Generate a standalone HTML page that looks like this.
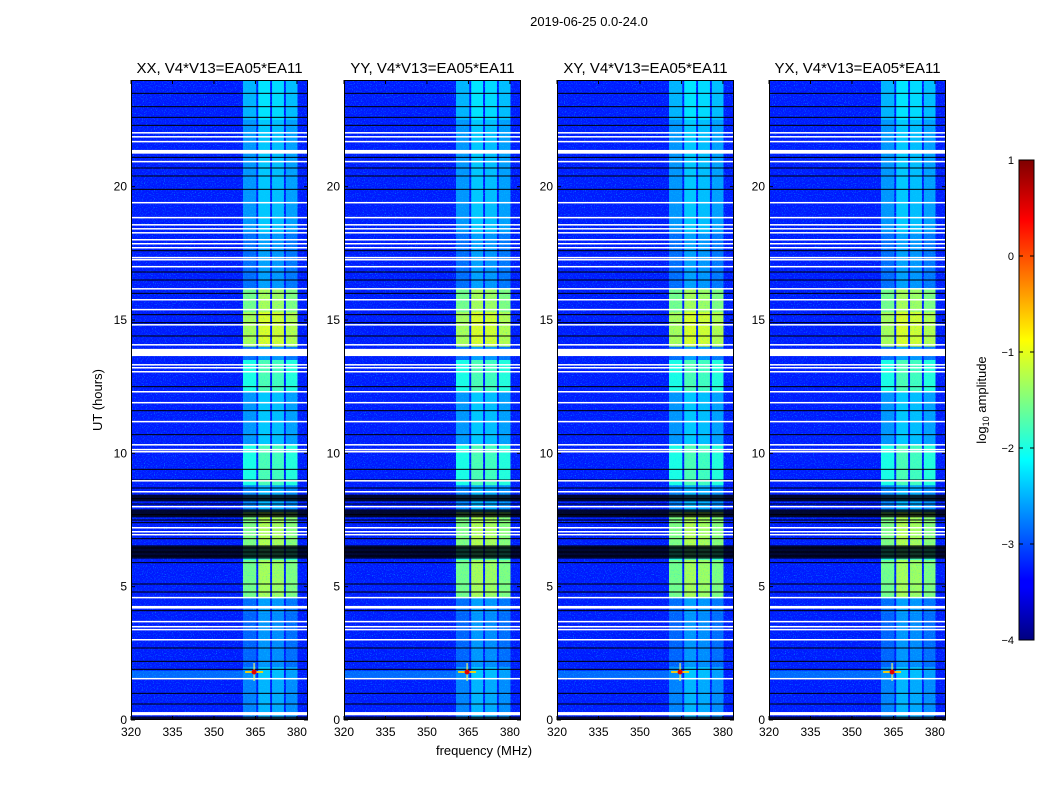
<!DOCTYPE html>
<html><head><meta charset="utf-8"><style>
body{margin:0;background:#fff;width:1050px;height:800px;overflow:hidden}
svg text{font-family:"Liberation Sans",sans-serif}
</style></head><body>
<svg id="fig" width="1050" height="800" xmlns="http://www.w3.org/2000/svg">
<defs>
<filter id="noise" x="0" y="0" width="100%" height="100%">
<feTurbulence type="fractalNoise" baseFrequency="0.9" numOctaves="1" seed="3"/>
<feColorMatrix type="matrix" values="0 0 0 0 0  0 0 0 0 0.75  0 0 0 0 1  0 0 0 3.2 -1.75"/>
</filter>
<linearGradient id="jet" x1="0" y1="1" x2="0" y2="0">
<stop offset="0" stop-color="#00007f"/><stop offset="0.11" stop-color="#0000ff"/>
<stop offset="0.125" stop-color="#0000ff"/><stop offset="0.375" stop-color="#00ffff"/>
<stop offset="0.5" stop-color="#80ff80"/><stop offset="0.625" stop-color="#ffff00"/>
<stop offset="0.875" stop-color="#ff0000"/><stop offset="1" stop-color="#7f0000"/>
</linearGradient>
</defs>
<text x="589" y="26" font-size="13" text-anchor="middle">2019-06-25 0.0-24.0</text>
<text x="484" y="755" font-size="13" text-anchor="middle">frequency (MHz)</text>
<text x="102" y="400" font-size="13" text-anchor="middle" transform="rotate(-90 102 400)">UT (hours)</text>
<g id="panels"></g>
<g id="cbar"></g>
</svg>
<script>
const panelTitles=["XX, V4*V13=EA05*EA11","YY, V4*V13=EA05*EA11","XY, V4*V13=EA05*EA11","YX, V4*V13=EA05*EA11"];
const panelLeft=[131,344,557,769];
const xTicks=[320,335,350,365,380];
const yTicks=[0,5,10,15,20];
const cbTicks=[1,0,-1,-2,-3,-4];
const bgLevel=-3.25;
const segStart=[0,1.5,2.0,4.0,4.6,6.0,6.5,7.8,8.8,10.3,12.3,13.5,14.0,15.3,16.2,18.3,22.5];
const segEnd=[1.5,2.0,4.0,4.6,6.0,6.5,7.8,8.8,10.3,12.3,13.5,14.0,15.3,16.2,18.3,22.5,24];
const bandLevel=[-2.6,-2.5,-2.75,-2.7,-1.4,-1.8,-1.35,-2.6,-1.85,-2.5,-1.85,-2.7,-1.15,-1.4,-2.7,-2.5,-2.35];
const subStart=[360.5,366.0,371.0,376.0];
const subEnd=[365.3,370.3,375.3,380.2];
const subOffset=[-0.15,0.1,0.05,-0.1];
const whiteRows=[22.01,21.86,21.68,21.34,20.93,19.39,18.83,18.56,18.41,18.26,18.0,17.85,17.7,17.33,17.25,16.99,16.16,15.75,15.38,14.81,14.06,13.88,13.31,13.2,13.05,12.3,11.89,11.18,10.31,10.13,10.05,8.96,8.55,7.99,7.2,7.05,6.94,4.58,4.24,3.68,3.49,3.38,3.0,1.54,0.26];
const whiteDur=[0.05,0.05,0.05,0.14,0.05,0.05,0.05,0.05,0.05,0.05,0.05,0.05,0.05,0.05,0.05,0.05,0.05,0.05,0.05,0.05,0.05,0.27,0.05,0.05,0.05,0.05,0.05,0.05,0.05,0.05,0.05,0.05,0.05,0.05,0.05,0.05,0.05,0.05,0.1,0.05,0.05,0.05,0.05,0.05,0.12];
const blackRows=[23.5,23.0,22.6,22.3,21.1,20.7,20.4,19.9,17.6,16.8,16.5,16.0,15.2,14.9,14.4,12.5,11.6,10.7,9.4,9.0,8.7,8.3,8.1,7.7,7.5,7.4,6.8,6.45,6.3,6.15,5.9,5.1,4.8,4.1,2.7,2.2,1.9,1.0,0.6];
const blackBlocks=[[6.05,6.55],[7.6,7.9],[8.2,8.45],[0,0.13]];
const hotFreq=364.5, hotTime=1.8;

function jet(v){const t=Math.max(0,Math.min(1,(v+4)/5));
 const c=x=>Math.round(255*Math.max(0,Math.min(1,1.5-Math.abs(4*t-x))));
 return `rgb(${c(3)},${c(2)},${c(1)})`;}
const NS="http://www.w3.org/2000/svg";
function el(tag,attrs,parent){const e=document.createElementNS(NS,tag);for(const k in attrs)e.setAttribute(k,attrs[k]);parent.appendChild(e);return e;}
const top0=80,bot0=720,W=177;
const panels=document.getElementById('panels');
panelTitles.forEach((title,p)=>{
 const x0=panelLeft[p];
 const X=f=>x0+(f-320)*W/64;
 const Y=h=>bot0-h*(bot0-top0)/24;
 const g=el('g',{},panels);
 
 
 const bg=el('rect',{x:x0,y:top0,width:W,height:bot0-top0,fill:jet(bgLevel)},g);
 
 
 for(let i=0;i<segStart.length;i++){
  for(let s=0;s<subStart.length;s++){
   const r=el('rect',{x:X(subStart[s]),y:Y(segEnd[i]),width:X(subEnd[s])-X(subStart[s]),height:Y(segStart[i])-Y(segEnd[i]),fill:jet(bandLevel[i]+subOffset[s])},g);
   
   
  }
 }
 const rfi=el('rect',{x:x0,y:Y(1.85),width:X(hotFreq)-x0,height:Y(1.55)-Y(1.85),fill:jet(-2.7),opacity:0.7},g);
 
 
 const nz=el('rect',{x:x0,y:top0,width:W,height:bot0-top0,filter:'url(#noise)',opacity:0.6},g);
 
 
 blackBlocks.forEach(b=>{
  const r=el('rect',{x:x0,y:Y(b[1]),width:W,height:Y(b[0])-Y(b[1]),fill:'#000',opacity:0.8},g);
  
  
 });
 blackRows.forEach(h=>{
  const r=el('rect',{x:x0,y:Y(h)-0.5,width:W,height:1,fill:'#000'},g);
  
  
 });
 whiteRows.forEach((h,i)=>{
  const r=el('rect',{x:x0,y:Y(h)-1,width:W,height:Math.max(1.5,whiteDur[i]*640/24),fill:'#fff'},g);
  
  
 });
 const hx=X(hotFreq),hy=Y(hotTime);
 const hv=el('rect',{x:hx-0.6,y:hy-9,width:1.2,height:18,fill:'#ffff60',opacity:0.9},g);
 
 
 const hh=el('rect',{x:hx-9,y:hy-1,width:18,height:2,fill:'#ffd000',opacity:0.9},g);
 
 
 const hs=el('circle',{cx:hx,cy:hy,r:2.5,fill:'#e00000'},g);
 
 
 const fr=el('rect',{x:x0+0.5,y:top0+0.5,width:W-1,height:bot0-top0-1,fill:'none',stroke:'#000','stroke-width':1},g);
 
 
 const t=el('text',{x:x0+W/2,y:73,'font-size':15,'text-anchor':'middle'},g);
 t.textContent=title;
 
 
 xTicks.forEach(f=>{
  el('line',{x1:X(f),x2:X(f),y1:bot0,y2:bot0-4,stroke:'#000'},g);
  el('line',{x1:X(f),x2:X(f),y1:top0,y2:top0+4,stroke:'#000'},g);
  const l=el('text',{x:X(f),y:bot0+16,'font-size':12,'text-anchor':'middle'},g);
  l.textContent=f;
  
  
 });
 yTicks.forEach(h=>{
  el('line',{x1:x0,x2:x0+4,y1:Y(h),y2:Y(h),stroke:'#000'},g);
  el('line',{x1:x0+W,x2:x0+W-4,y1:Y(h),y2:Y(h),stroke:'#000'},g);
  const l=el('text',{x:x0-4,y:Y(h)+4,'font-size':12,'text-anchor':'end'},g);
  l.textContent=h;
  
  
 });
});
const cb=document.getElementById('cbar');
const cx=1019,cw=15,ct=160,cbb=640;
const cr=el('rect',{x:cx,y:ct,width:cw,height:cbb-ct,fill:'url(#jet)',stroke:'#000'},cb);


cbTicks.forEach(v=>{
 const y=cbb-(v+4)/5*(cbb-ct);
 el('line',{x1:cx,x2:cx+4,y1:y,y2:y,stroke:'#000'},cb);
 el('line',{x1:cx+cw,x2:cx+cw-4,y1:y,y2:y,stroke:'#000'},cb);
 const l=el('text',{x:cx-5,y:y+4,'font-size':11,'text-anchor':'end'},cb);
 l.textContent=v<0?'\u2212'+(-v):v;
 
 
});
const cl=el('text',{x:986,y:400,'font-size':13,'text-anchor':'middle',transform:'rotate(-90 986 400)'},cb);
cl.innerHTML='log<tspan font-size="9" dy="3">10</tspan><tspan dy="-3"> amplitude</tspan>';


</script>
</body></html>
